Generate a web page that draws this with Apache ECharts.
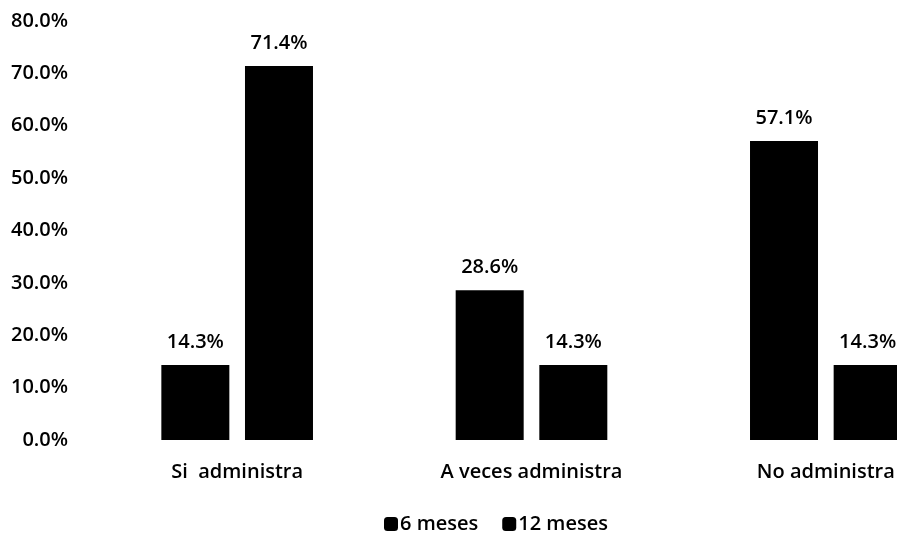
<!DOCTYPE html>
<html>
<head>
<meta charset="utf-8">
<script src="https://cdn.jsdelivr.net/npm/echarts@6/dist/echarts.min.js"></script>
<style>
  html, body { margin: 0; padding: 0; background: #fff; }
  #chart { width: 897px; height: 537px; }
</style>
</head>
<body>
<div id="chart"></div>
<script>
const categories = ['Si  administra', 'A veces administra', 'No administra']
const seriesNames = ['6 meses', '12 meses']
const meses6 = [14.3, 28.6, 57.1]
const meses12 = [71.4, 14.3, 14.3]

const font = 'Open Sans'
const txt = { color: '#000', fontFamily: font, fontSize: 20, fontWeight: 600 }
const chart = echarts.init(document.getElementById('chart'))

const barStyle = {
  type: 'bar',
  barWidth: 68,
  barGap: '23%',
  itemStyle: { color: '#000' },
  label: Object.assign({
    show: true,
    position: 'top',
    distance: 13,
    formatter: p => p.value.toFixed(1) + '%'
  }, txt)
}

chart.setOption({
  animation: false,
  // the plot runs past the right edge, like the cropped original
  grid: { left: 90, top: 21, width: 883, height: 419, outerBoundsMode: 'none' },
  legend: {
    data: seriesNames,
    left: 384,
    top: 514,
    padding: 0,
    icon: 'roundRect',
    itemWidth: 14,
    itemHeight: 14,
    itemGap: 24,
    textStyle: Object.assign({ padding: [0, 0, 0, -3] }, txt)
  },
  xAxis: {
    type: 'category',
    data: categories,
    axisLine: { show: false },
    axisTick: { show: false },
    axisLabel: Object.assign({ margin: 22 }, txt)
  },
  yAxis: {
    type: 'value',
    min: 0,
    max: 80,
    interval: 10,
    splitLine: { show: false },
    axisLine: { show: false },
    axisTick: { show: false },
    axisLabel: Object.assign({
      margin: 22,
      formatter: v => v.toFixed(1) + '%'
    }, txt)
  },
  series: [
    Object.assign({ name: seriesNames[0], data: meses6 }, barStyle),
    Object.assign({ name: seriesNames[1], data: meses12 }, barStyle)
  ]
})
</script>
</body>
</html>
